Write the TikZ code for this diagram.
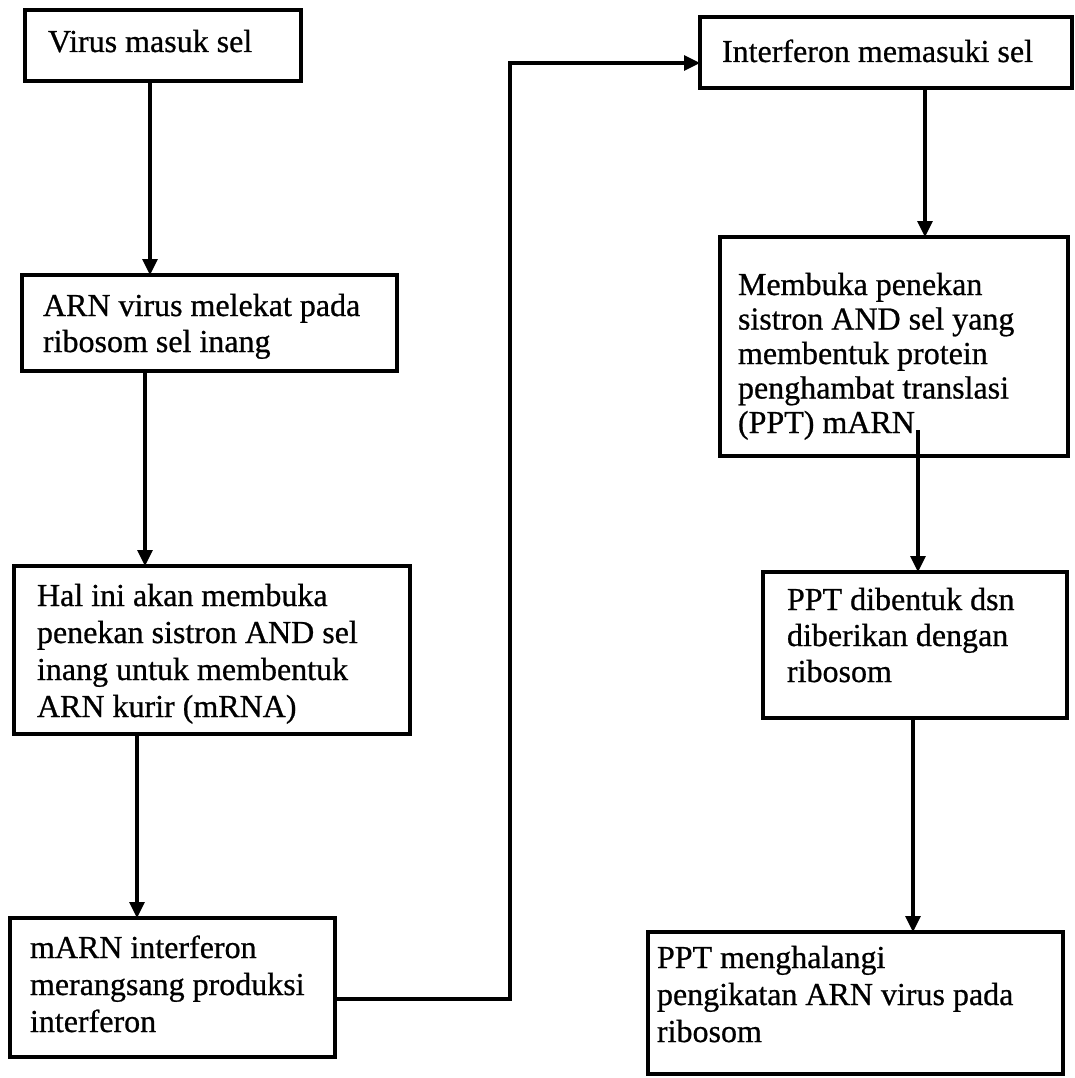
\documentclass[tikz,border=0pt]{standalone}
\usepackage{fontspec}
\setmainfont{Liberation Serif}[FakeBold=0.7]
\usetikzlibrary{arrows.meta,calc}
\newcommand\boxtext[2]{\parbox[t]{420pt}{\fontsize{32}{#1}\selectfont\raggedright #2}}
\begin{document}
\begin{tikzpicture}[x=1pt,y=-1pt,
  box/.style={draw, line width=3.2pt, rectangle, inner sep=0pt, outer sep=0pt, anchor=north west},
  txt/.style={anchor=base west, inner sep=0pt, outer sep=0pt},
  arr/.style={line width=3.2pt, -{Triangle[length=16pt,width=15pt]}}]
\useasboundingbox (0,0) rectangle (1075,1078);
% boxes
\node[box, minimum width=276pt, minimum height=71pt]  (b1) at (25,10)  {};
\node[box, minimum width=375pt, minimum height=96pt]  (b2) at (22,275) {};
\node[box, minimum width=396pt, minimum height=168pt] (b3) at (14,566) {};
\node[box, minimum width=325pt, minimum height=139pt] (b4) at (10,918) {};
\node[box, minimum width=372pt, minimum height=71pt]  (b5) at (700,17) {};
\node[box, minimum width=348pt, minimum height=219pt] (b6) at (720,237) {};
\node[box, minimum width=304pt, minimum height=146pt] (b7) at (763,572) {};
\node[box, minimum width=415pt, minimum height=142pt] (b8) at (648,932) {};
% texts
\node[txt] (t1) at (48,52)  {\boxtext{37}{Virus masuk sel}};
\node[txt] (t2) at (43,316) {\boxtext{36}{ARN virus melekat pada\\ribosom sel inang}};
\node[txt] (t3) at (37,606) {\boxtext{37}{Hal ini akan membuka\\penekan sistron AND sel\\inang untuk membentuk\\ARN kurir (mRNA)}};
\node[txt] (t4) at (30,958) {\boxtext{37}{mARN interferon\\merangsang produksi\\interferon}};
\node[txt] (t5) at (722,62) {\boxtext{37}{Interferon memasuki sel}};
\node[txt] (t6) at (738,295) {\boxtext{34.5}{Membuka penekan\\sistron AND sel yang\\membentuk protein\\penghambat translasi\\(PPT) mARN}};
\node[txt] (t7) at (787,610) {\boxtext{36}{PPT dibentuk dsn\\diberikan dengan\\ribosom}};
\node[txt] (t8) at (657,968) {\boxtext{37}{PPT menghalangi\\pengikatan ARN virus pada\\ribosom}};
% helper coordinates
\coordinate (x1) at (150,0);
\coordinate (x2) at (145,0);
\coordinate (x3) at (137,0);
\coordinate (x5) at (925,0);
\coordinate (a6) at (918,430);
\coordinate (x7) at (913,0);
\coordinate (c1) at (510,999);
\coordinate (c2) at (510,63);
% connectors
\draw[arr] (b1.south -| x1) -- (b2.north -| x1);
\draw[arr] (b2.south -| x2) -- (b3.north -| x2);
\draw[arr] (b3.south -| x3) -- (b4.north -| x3);
\draw[arr] (c1 -| b4.east) -- (c1) -- (c2) -- (c2 -| b5.west);
\draw[arr] (b5.south -| x5) -- (b6.north -| x5);
\draw[arr] (a6) -- (b7.north -| a6);
\draw[arr] (b7.south -| x7) -- (b8.north -| x7);
\end{tikzpicture}
\end{document}
